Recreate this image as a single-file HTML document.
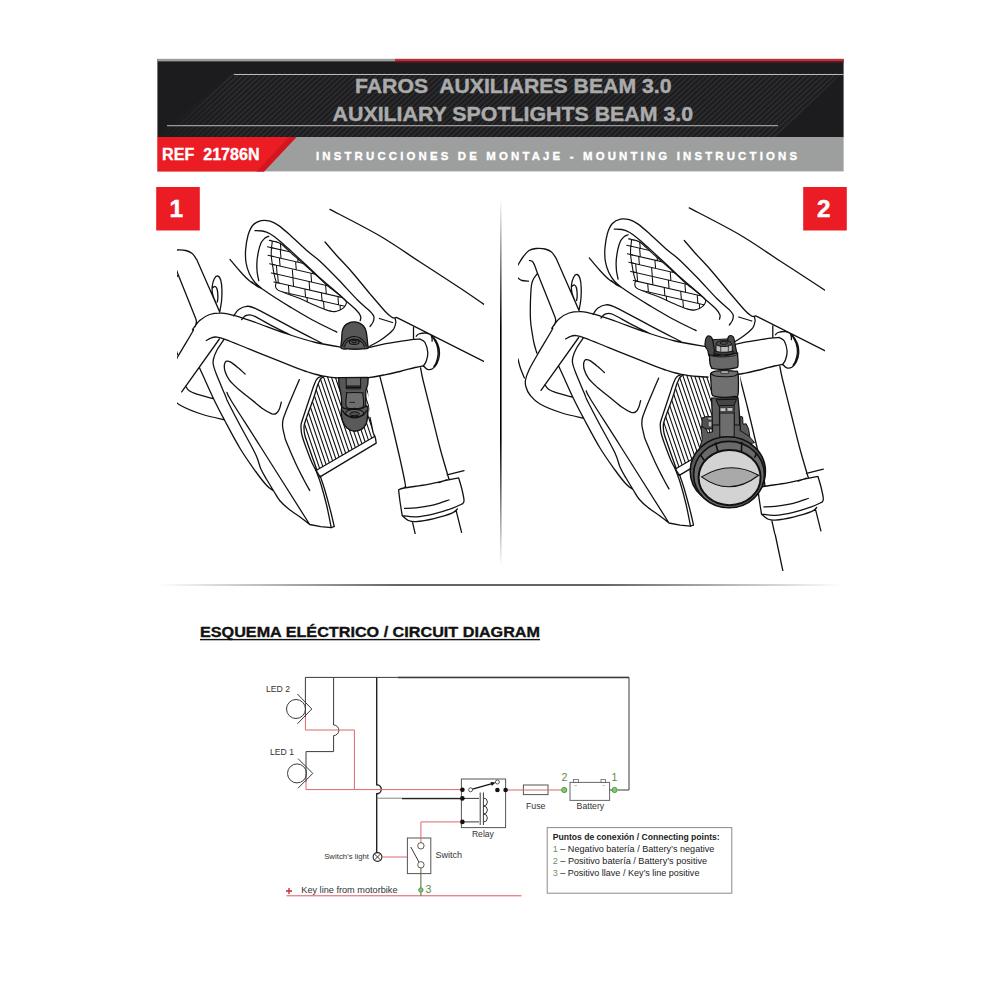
<!DOCTYPE html>
<html><head><meta charset="utf-8">
<style>
html,body{margin:0;padding:0;background:#fff;}
body{width:1000px;height:1000px;overflow:hidden;position:relative;font-family:"Liberation Sans",sans-serif;}
svg{position:absolute;left:0;top:0;}
</style></head><body>
<svg width="1000" height="1000" viewBox="0 0 1000 1000" font-family="Liberation Sans, sans-serif">
<defs>
<pattern id="hatch" width="3.8" height="3.8" patternUnits="userSpaceOnUse" patternTransform="rotate(47)">
<rect width="3.8" height="3.8" fill="#1c1c1e"/><rect width="1.5" height="3.8" fill="#2f2f32"/>
</pattern>
<linearGradient id="hf" x1="0" y1="0" x2="1" y2="0"><stop offset="0" stop-color="#1c1c1e" stop-opacity=".85"/><stop offset=".1" stop-color="#1c1c1e" stop-opacity="0"/></linearGradient>
<linearGradient id="vg" x1="0" y1="0" x2="0" y2="1"><stop offset="0" stop-color="#000" stop-opacity="0"/><stop offset=".35" stop-color="#000" stop-opacity="1"/><stop offset=".65" stop-color="#000" stop-opacity="1"/><stop offset="1" stop-color="#000" stop-opacity="0"/></linearGradient>
<linearGradient id="hg" x1="0" y1="0" x2="1" y2="0"><stop offset="0" stop-color="#000" stop-opacity="0"/><stop offset=".35" stop-color="#000" stop-opacity="1"/><stop offset=".65" stop-color="#000" stop-opacity="1"/><stop offset="1" stop-color="#000" stop-opacity="0"/></linearGradient>
<linearGradient id="tg" x1="0" y1="0" x2="1" y2="0"><stop offset="0" stop-color="#9a9a9a"/><stop offset=".33" stop-color="#9a9a9a"/><stop offset=".37" stop-color="#d41f2a"/><stop offset="1" stop-color="#d41f2a"/></linearGradient>
<clipPath id="c1"><rect x="177" y="185" width="307" height="349"/></clipPath>
<clipPath id="c2"><rect x="518" y="200" width="307" height="371"/></clipPath>
<g id="scene" fill="none" stroke="#111" stroke-width="1.3" stroke-linecap="round" stroke-linejoin="round">
<path d="M223.7,419.5C220.2,418.7 209.9,416.8 202.7,414.5C195.5,412.2 186,408.5 180.7,405.5C175.4,402.5 173,399.3 170.7,396.5C168.4,393.7 167.4,391 166.7,388.5C165.9,386 165.7,384.3 166.2,381.5C166.7,378.7 167.7,375.8 169.7,371.5C171.7,367.2 174.4,362.7 178.2,356C182,349.3 190.3,335.9 192.7,331.5C195.1,327.1 191.5,331.3 192.7,329.5C193.9,327.7 196.9,323 199.7,320.5C202.5,318 206,315.7 209.7,314.5C213.4,313.3 217.4,312.9 221.7,313.1C226,313.3 230,314.3 235.7,315.9C241.4,317.5 247.4,319.6 255.7,322.5C264,325.4 275.7,330.2 285.7,333.5C295.7,336.8 305.7,340.1 315.7,342.5C325.7,344.9 339.1,346.8 345.7,347.9C352.2,349 351.3,349.1 355,349C358.7,348.9 363.5,348.3 368.1,347.5C372.7,346.7 377,345.4 382.5,344.4C388,343.3 396,342.1 401.2,341.2C406.5,340.4 410.6,339.8 413.8,339.4C416.9,339 419,339.1 420,339M206.3,340.5C207.2,340 209.6,338.3 211.3,337.8C213.1,337.2 214.6,336.8 216.9,337.1C219.3,337.4 220.1,337.5 225.7,339.6C231.3,341.7 242.4,346.3 250.7,349.6C259,353 268.3,356.7 275.7,359.6C283.1,362.6 289.6,365.2 295,367.3C300.4,369.4 303.5,370.6 308,372C312.5,373.4 316.8,374.8 322,375.8C327.2,376.8 333.5,377.5 339,378C344.5,378.5 350.3,378.6 355,378.6C359.7,378.6 362.2,378.4 367,377.8C371.8,377.2 378.2,376.1 383.8,375C389.2,373.9 394.8,372.8 400,371.5C405.2,370.2 411,368.5 415,367.5C419,366.5 422.3,365.9 423.8,365.6M219.4,339L181.7,391.9M185.6,386C186.2,386.8 187.2,389.4 189.2,390.8C191.2,392.2 193.6,393.1 197.6,394.4C201.6,395.7 210.6,397.9 213.2,398.6M155.7,271.5C156.2,270.7 157.4,268.7 158.7,266.5C160,264.3 161.9,260.9 163.7,258.5C165.5,256.1 167.5,253.4 169.7,252C171.9,250.6 174,250.2 176.7,250C179.4,249.8 183.1,249.9 185.7,250.5C188.3,251.1 190.4,252 192.2,253.5C194,255 195.9,258.5 196.7,259.5M196.7,259.5L219.7,312M170.2,262C170.7,262.2 172.4,262.2 173.2,263C174,263.8 174.4,264.8 175.2,266.5C175.9,268.2 177.3,272.3 177.7,273.5M177.7,273.5L195.7,318.5M195.7,318.5C195.8,319.1 196.5,320.7 196.4,322C196.3,323.3 195.4,325.8 195.2,326.5M155.7,277.5C156.2,277.8 157.5,278.8 158.7,279.5C159.9,280.2 160.9,281.5 162.7,282C164.4,282.5 168.1,282.6 169.2,282.7M177.7,275.5C177.1,276.3 175.1,278.7 174.2,280.5C173.3,282.3 172.7,283 172.2,286.5C171.7,290 171.4,295.7 171.2,301.5C171,307.3 170.9,315.7 171.2,321.5C171.5,327.3 172.6,332.5 173.2,336.5C173.8,340.5 174.2,342.5 174.9,345.5C175.6,348.5 177.1,353 177.5,354.5M158.7,360.5C159.1,362 160,366.3 161.1,369.5C162.2,372.7 164.4,377.8 165.1,379.5M219.7,312C219,310.4 216.9,305.4 215.7,302.5C214.5,299.6 213.3,297.2 212.7,294.5C212.1,291.8 211.9,289.1 212.2,286.5C212.4,283.9 213.3,280.8 214.2,279C215.1,277.2 216.6,275.8 217.7,276C218.8,276.2 220,277.8 220.7,280C221.4,282.2 221.8,285.9 221.9,289.5C222,293.1 221.9,297.8 221.5,301.5C221.1,305.2 220,310.2 219.7,312M212.7,287.7C213.1,287.5 214.4,286.2 215.2,286.5C215.9,286.8 216.8,287.7 217.2,289.5C217.6,291.3 217.9,295.4 217.9,297.5C217.9,299.6 217.4,301.2 217.3,302M261.9,288.8C260.7,287.7 257.1,285 255,282.5C252.9,280 250.9,277.1 249.4,273.8C247.9,270.4 246.6,266.5 246,262.5C245.4,258.5 245.3,254.6 245.6,250C246,245.4 246.9,239.2 248.1,235C249.4,230.8 250.9,227.4 253.1,225C255.3,222.6 258.4,221.2 261.2,220.6C264.1,220 267.1,220.4 270,221.2C272.9,222.1 275.4,223.3 278.8,225.6C282.1,227.9 285.4,230.9 290,235C294.6,239.1 301.2,245.6 306.2,250C311.2,254.4 314.6,256.2 320,261.2C325.4,266.2 332.5,273.5 338.8,280C345,286.5 352.3,294.8 357.5,300C362.7,305.2 367.3,308.5 370,311.2C372.7,314 373.2,314.5 373.8,316.2C374.3,318 373.8,320.2 373.1,321.9C372.5,323.6 370.5,325.7 370,326.5M255,230.6C256.2,230.7 260,230.5 262.5,231C265,231.5 267.1,232 270,233.8C272.9,235.5 276.2,238.1 280,241.2C283.8,244.4 288.1,248.5 292.5,252.5C296.9,256.5 301.7,260.7 306.2,265C310.8,269.3 315.6,274.2 320,278.1C324.4,282.1 328.3,285.1 332.5,288.8C336.7,292.4 341,296.5 345,300C349,303.5 353.6,307.3 356.2,310C358.9,312.7 360,314.5 360.6,316.2C361.3,318 360.3,319.9 360.2,320.6M268.8,236.2C268.1,236.6 266.2,237.1 265,238.1C263.8,239.2 262.3,240.3 261.2,242.5C260.2,244.7 259.2,247.9 258.5,251.2C257.8,254.6 257.1,259 256.9,262.5C256.7,266 256.9,269.5 257.2,272.5C257.6,275.5 258.5,279.3 258.8,280.6M230,259.4C231.7,261.4 236.7,267.6 240,271.2C243.3,274.9 246.4,278.3 250,281.2C253.6,284.2 257.7,286 261.9,288.8C266,291.5 270.3,294.5 275,297.5C279.7,300.5 283.8,303.1 290,306.9C296.2,310.6 305,315.9 312.5,320C320,324.1 331.1,329.3 335,331.2C338.9,333.2 335.5,331.5 335.6,331.5M251.9,281.9C252.6,282.5 254.6,284.5 256.2,285.6C257.9,286.8 260.9,288.2 261.9,288.8M325,242C326.9,244.2 331.9,250.1 336.2,255C340.6,259.9 345.6,264.8 351.2,271.2C356.9,277.7 364.4,287.1 370,293.8C375.6,300.4 381.4,307.3 385,311.2C388.6,315.2 390.2,316.1 391.9,317.2C393.5,318.4 394.5,317.8 395,317.9M395,317.9L396.6,317.4L398,318.2L490,364.5M330,209.4C338.3,213.8 365,227.2 380,236C395,244.8 406.7,253.3 420,262C433.3,270.7 449.3,280.9 460,288C470.7,295.1 477.3,299.8 484,304.4C490.7,309 497.3,313.7 500,315.6M379.4,318.5L392.5,322.5M395,318.1C395.1,318.9 396,320.7 395.8,322.5C395.5,324.3 395.1,326.7 393.8,328.8C392.4,330.8 390,332.9 387.5,335C385,337.1 381.7,339.4 378.8,341.2C375.8,343.1 371.5,345.2 370,346M413.5,327.5L413.5,339M420,339C420.8,339.6 423.7,340.2 425,342.5C426.3,344.8 427.5,349.4 427.8,352.5C428,355.6 427,359 426.2,361.2C425.5,363.5 423.6,365.4 423.1,366.2M416.2,336.2C416.7,335.9 417.1,334.5 418.8,334C420.4,333.5 424,332.8 426.2,333.1C428.5,333.5 430.5,334.3 432.5,336.2C434.5,338.2 437,341.9 438.1,345C439.3,348.1 439.6,351.9 439.4,355C439.2,358.1 438,361.5 436.9,363.8C435.7,366 434.1,367.8 432.5,368.8C430.9,369.7 429,369.8 427.5,369.4C426,369 424.4,366.8 423.8,366.2M433.1,337.5C433.8,338.8 436,342.3 436.9,345C437.7,347.7 438.2,350.8 438.1,353.8C438,356.7 437,360.4 436.2,362.5C435.5,364.6 434.2,365.8 433.8,366.5M431,335C431.2,335.5 431.8,337.1 432,338.1C432.2,339.2 432.1,340.7 432.1,341.2M233.7,315.9C234.5,314.8 236.5,311.1 238.7,309.5C240.9,307.9 243.7,306.4 246.7,306.3C249.7,306.2 249.4,305.6 256.7,309.1C264,312.6 279.9,321.4 290.7,327.1C301.5,332.8 316.5,340.4 321.7,343.1M241.7,319.5C242.4,318.9 243.9,316.4 245.7,315.7C247.5,315 248.5,313.9 252.7,315.5C256.9,317.1 264.4,321.8 270.7,325.1C277,328.4 287.4,333.4 290.7,335.1M223.8,339.6C222.7,341.4 218.6,347.2 216.9,350.2C215.3,353.3 214.4,355.5 213.8,357.8C213.2,360 212.8,361.3 213.2,364C213.6,366.7 214.2,368.6 216.3,374C218.4,379.4 223.8,391.9 225.7,396.5C227.6,401.1 225.2,396.5 227.7,401.5C230.2,406.5 236,417.7 240.7,426.5C245.4,435.3 252.4,447.5 255.7,454.5C259,461.5 258.9,464.3 260.7,468.5C262.5,472.7 264.5,475.8 266.7,479.5C268.9,483.2 271.5,487.5 273.7,491C275.9,494.5 277.2,497.5 279.7,500.5C282.2,503.5 285.2,506.2 288.7,509C292.2,511.8 297.2,514.9 300.7,517.5C304.2,520.1 308.2,523.3 309.7,524.5M199.4,367.4C201.7,372.5 209,389.1 213.2,398C217.4,406.9 220.1,411.9 224.7,420.5C229.3,429.1 235.5,441 240.7,449.5C245.9,458 251.4,465.5 255.7,471.5C260,477.5 263.7,482.2 266.7,485.5C269.7,488.8 272.5,490.1 273.7,491M226.9,392.4C227.7,393.9 226.1,392.4 231.7,401.5C237.3,410.6 247.7,426.5 260.7,447C273.7,467.5 301.5,511.6 309.7,524.5M245.1,374C243.9,373 240.6,369.7 238.2,367.8C235.8,365.8 232.7,363.2 230.7,362.1C228.7,361 227.4,360.8 226.3,361.2C225.3,361.7 224.7,362.9 224.4,364.6C224.2,366.3 224.2,368.9 225.1,371.5C225.9,374.1 227.3,377.3 229.4,380.2C231.6,383.2 234.7,385.9 238.2,389C241.7,392.1 246.5,395.7 250.7,399C254.9,402.3 259.7,406.5 263.2,409C266.7,411.5 269.8,413 271.9,413.8C274.1,414.5 275.1,414.2 276.3,413.4C277.6,412.6 278.6,410.9 279.4,409C280.3,407.1 281,403.3 281.3,402.1M299.4,379.6C298.4,382 295.3,389.1 293.2,394C291.1,398.9 288.6,404.8 286.9,409C285.3,413.2 283.9,416.1 283.2,419C282.5,421.9 282.4,423.8 282.6,426.5C282.8,429.2 283.8,432.8 284.4,435.2C285.1,437.8 284.3,436.8 286.2,441.5C288.1,446.2 292.8,457.2 295.7,463.5C298.6,469.8 301.4,475 303.7,479.5C306,484 308.7,488.7 309.7,490.5M309.7,524.5L320.7,526.7L331.2,527.7L334.2,526.5M380,376.9C381.2,381.8 384.8,395.3 387.5,406.2C390.2,417.2 393.3,429.8 396.2,442.5C399.2,455.2 403.6,475 405,482.5C406.4,490 404.7,486.6 404.6,487.4M420.6,368C421,370 421.1,372 423,380C424.9,388 429.2,404.7 432,416C434.8,427.3 437.3,437.8 440,448C442.7,458.2 446.9,472.1 448.4,477.2C449.9,482.3 449,478.4 449.1,478.6M398.6,489.8C399.5,489.5 399.1,488.9 404,488C408.9,487.1 420.8,485.7 428,484.4C435.2,483.1 442.1,481.3 447.2,480.2C452.3,479.1 456.7,478.2 458.6,477.8M398.6,489.8C398.8,491.5 399.2,495.7 399.8,500C400.4,504.3 401.8,513 402.2,515.6M458.6,477.8C459.1,479.5 460.7,484.3 461.6,488C462.5,491.7 463.8,497.4 464,500C464.2,502.6 463,503 462.8,503.6M402.2,515.6C404.5,515.8 410.7,517.1 416,516.8C421.3,516.5 428,515.2 434,513.8C440,512.4 447.2,510.1 452,508.4C456.8,506.7 461,504.4 462.8,503.6M404.6,508.4C406.5,508.3 411.1,508.4 416,507.8C420.9,507.2 428.5,506.1 434,504.8C439.5,503.5 446.5,500.8 449,500M402.8,516.2C403.7,516.9 406,519.5 408.2,520.4C410.4,521.3 411.7,521.9 416,521.6C420.3,521.3 428,520 434,518.6C440,517.2 448.1,514.8 452,513.2C455.9,511.6 456.5,509.7 457.4,509M412.4,521.6L415.4,534.8M456.2,510.8L461.6,532.4M415.9,536L423.7,573M447.2,474.8L464,470.6M438.8,482.6L447.2,479.6"/>
<clipPath id="radclip"><path d="M324,376.5C323.5,376.8 321.8,377.6 321,378.5C320.2,379.4 319.7,380.6 319,382C318.3,383.4 317.9,384.2 317,387C316.1,389.8 315.1,393.8 313.5,398.5C311.9,403.2 309,410.8 307.5,415C306,419.2 305.1,421.6 304.5,423.8C303.9,425.9 304,426.1 304,428C304,429.9 304.1,432.2 304.8,435C305.4,437.8 306.1,439.2 308.1,445C310.1,450.8 315.4,465.8 316.9,470L375,436.2L373.1,432.5L370,417.5L367,377.8L355,378.6L339,378Z"/></clipPath>
<path clip-path="url(#radclip)" d="M252.4,374.2L292,490.5M256.4,374.2L295.9,490.5M260.2,374.2L299.8,490.5M264.1,374.2L303.7,490.5M268.1,374.2L307.6,490.5M271.9,374.2L311.5,490.5M275.9,374.2L315.4,490.5M279.8,374.2L319.3,490.5M283.6,374.2L323.2,490.5M287.6,374.2L327.1,490.5M291.4,374.2L331,490.5M295.4,374.2L334.9,490.5M299.2,374.2L338.8,490.5M303.1,374.2L342.7,490.5M307.1,374.2L346.6,490.5M310.9,374.2L350.5,490.5M314.9,374.2L354.4,490.5M318.8,374.2L358.3,490.5M322.6,374.2L362.2,490.5M326.6,374.2L366.1,490.5M330.4,374.2L370,490.5M334.3,374.2L373.9,490.5M338.2,374.2L377.8,490.5M342.1,374.2L381.7,490.5M346,374.2L385.6,490.5M349.9,374.2L389.5,490.5M353.8,374.2L393.4,490.5M357.8,374.2L397.3,490.5M361.6,374.2L401.2,490.5M365.6,374.2L405.1,490.5" stroke-width="1.1"/>
<path d="M324,376.5C323.5,376.8 321.8,377.6 321,378.5C320.2,379.4 319.7,380.6 319,382C318.3,383.4 317.9,384.2 317,387C316.1,389.8 315.1,393.8 313.5,398.5C311.9,403.2 309,410.8 307.5,415C306,419.2 305.1,421.6 304.5,423.8C303.9,425.9 304,426.1 304,428C304,429.9 304.1,432.2 304.8,435C305.4,437.8 306.1,439.2 308.1,445C310.1,450.8 315.4,465.8 316.9,470"/>
<path d="M322,376.2C321.4,376.5 319.5,376.8 318.5,377.5C317.5,378.2 316.8,379 316,380.5C315.2,382 314.5,383.8 313.5,386.5C312.5,389.2 311.6,392.2 310,397C308.4,401.8 305.5,410.5 304,415C302.5,419.5 301.8,421.7 301.2,423.8C300.8,425.8 300.9,425.6 301,427.5C301.1,429.4 301.1,431.9 301.9,435C302.6,438.1 303.9,441.5 305.6,446.2C307.4,451 310.1,458.6 312.5,463.8C314.9,468.9 318.8,474.7 320,476.9"/>
<path d="M316.9,470L375,436.2"/>
<path d="M320,476.9L376.2,443.1L375.6,438.8L373.1,432.5L370,417.5"/>
<path d="M315.2,468.5C316.1,471 318.8,477.3 320.7,483.5C322.6,489.7 324.9,498.2 326.7,505.5C328.4,512.8 330.4,523.8 331.2,527.5"/>
<path d="M320.2,476C320.9,478.2 322.9,483.6 324.7,489.5C326.4,495.4 329.1,505.3 330.7,511.5C332.3,517.7 333.6,524 334.2,526.5"/>
<clipPath id="meshclip"><path d="M269.6,240.5C270.9,240.8 276.3,241 280,243.2C283.7,245.4 287.9,250.3 291.7,253.6C295.4,256.9 298.9,259.9 302.5,263C306.1,266.2 309.2,268.8 313.3,272.5C317.3,276.2 322.1,281.1 326.8,285.1C331.4,289.1 338,293.6 341.2,296.3C344.4,299 345.4,299.9 346.1,301.3C346.9,302.7 346.4,303.6 345.7,304.9C345,306.2 343.6,307.9 342.1,308.9C340.6,310 338.6,310.8 336.7,311.2C334.7,311.6 333.8,312.1 330.4,311.2C326.9,310.3 321.4,308 316,305.8C310.6,303.5 304.4,300.4 298,297.7C291.5,295 280.9,292.2 277.3,289.6C273.6,286.9 276.5,284 276.1,281.8C275.6,279.6 275.1,278.9 274.6,276.4C274,273.9 273.3,270.2 272.8,266.8C272.2,263.4 271.5,259 271.3,256C271.1,253 271.3,251.2 271.4,248.8C271.5,246.4 272.4,243 272.1,241.6C271.8,240.2 268.3,240.2 269.6,240.5Z"/></clipPath>
<path d="M269.6,240.5C270.9,240.8 276.3,241 280,243.2C283.7,245.4 287.9,250.3 291.7,253.6C295.4,256.9 298.9,259.9 302.5,263C306.1,266.2 309.2,268.8 313.3,272.5C317.3,276.2 322.1,281.1 326.8,285.1C331.4,289.1 338,293.6 341.2,296.3C344.4,299 345.4,299.9 346.1,301.3C346.9,302.7 346.4,303.6 345.7,304.9C345,306.2 343.6,307.9 342.1,308.9C340.6,310 338.6,310.8 336.7,311.2C334.7,311.6 333.8,312.1 330.4,311.2C326.9,310.3 321.4,308 316,305.8C310.6,303.5 304.4,300.4 298,297.7C291.5,295 280.9,292.2 277.3,289.6C273.6,286.9 276.5,284 276.1,281.8C275.6,279.6 275.1,278.9 274.6,276.4C274,273.9 273.3,270.2 272.8,266.8C272.2,263.4 271.5,259 271.3,256C271.1,253 271.3,251.2 271.4,248.8C271.5,246.4 272.4,243 272.1,241.6C271.8,240.2 268.3,240.2 269.6,240.5Z" stroke-width="1.1"/>
<path clip-path="url(#meshclip)" d="M266.8,239.7L349,258.6M266.8,246.6L349,265.5M266.8,255L349,273.9M266.8,263.1L349,282M266.8,271.8L349,290.7M266.8,280.2L349,299.1M266.8,288.3L349,307.2M266.8,296.4L349,315.3M266.8,304.5L349,323.4M266.8,312.6L349,331.5M280.3,242.8L281,249.9M280.3,249.7L281,258.3M297.4,253.7L298.1,262.2M279.4,257.9L280.1,266.2M295.6,261.7L296.3,269.9M312.4,265.5L313.1,273.8M276.4,265.3L277.1,274.2M292.3,269L293,277.9M310.9,273.3L311.6,282.1M327.4,277.1L328.1,285.9M277.6,274.3L278.3,282.9M292.9,277.8L293.6,286.4M309.1,281.6L309.8,290.1M325.6,285.4L326.3,293.9M342.1,289.2L342.8,297.7M288.4,285.2L289.1,293.5M304.9,289L305.6,297.3M321.4,292.8L322.1,301.1M337.9,296.6L338.6,304.9M290.5,293.8L291.2,302M307,297.6L307.7,305.8M323.5,301.4L324.2,309.6M340,305.2L340.7,313.4M298.6,303.7L299.3,312M315.1,307.5L315.8,315.8M331.6,311.3L332.3,319.6M348.1,315.1L348.8,323.4M307,313.8L307.7,322M323.5,317.6L324.2,325.8M340,321.4L340.7,329.6" stroke-width="1.05"/>
<path d="M267.4,246.8L272.8,248M268,255.3L273.4,256.6M269.5,263.8L274.9,265M271.3,272.9L276.7,274.1M274,281.9L279.4,283.1" stroke-width="1.05"/>
</g>
</defs>
<!-- HEADER -->
<g id="header">
<rect x="157.4" y="59" width="686.2" height="78.4" fill="#1c1c1e"/>
<polygon points="231,73 842,73 776,137.4 160,137.4" fill="url(#hatch)"/><polygon points="231,73 842,73 776,137.4 160,137.4" fill="url(#hf)"/>
<rect x="157.4" y="58.8" width="238" height="2.6" fill="#9c9c9c"/><rect x="395" y="58.8" width="448.6" height="2.4" fill="#b8323a"/><rect x="395" y="61.2" width="448.6" height="1.4" fill="#6e1a20"/>
<rect x="234" y="74" width="609.6" height="1" fill="#b9b9b9"/>
<rect x="167" y="125.2" width="611" height="1" fill="#b9b9b9"/>
<text x="355" y="92.6" font-size="20.4" font-weight="bold" fill="#ababab" stroke="#ababab" stroke-width=".4" textLength="316.5" lengthAdjust="spacingAndGlyphs" xml:space="preserve">FAROS  AUXILIARES BEAM 3.0</text>
<text x="332.6" y="121" font-size="20.4" font-weight="bold" fill="#ababab" stroke="#ababab" stroke-width=".4" textLength="360.5" lengthAdjust="spacingAndGlyphs">AUXILIARY SPOTLIGHTS BEAM 3.0</text>
<rect x="157.4" y="137" width="686.2" height="34.4" fill="#9d9f9e"/>
<polygon points="157.4,137 296.5,137 264,171.4 157.4,171.4" fill="#ec1c24"/>
<polygon points="289,137 296.5,137 264,171.4 256.5,171.4" fill="#d2151e"/>
<text x="162" y="159.7" font-size="15.6" font-weight="bold" fill="#fff" stroke="#fff" stroke-width=".3" textLength="97.6" lengthAdjust="spacingAndGlyphs" xml:space="preserve">REF  21786N</text>
<text x="316" y="159.7" font-size="11.4" font-weight="bold" fill="#fff" stroke="#fff" stroke-width=".35" textLength="481" lengthAdjust="spacing">INSTRUCCIONES DE MONTAJE - MOUNTING INSTRUCTIONS</text>
</g>
<!-- NUMBER BOXES -->
<rect x="156.2" y="187" width="43.6" height="43.5" fill="#ec1c24"/>
<text x="176.4" y="217" font-size="24.5" font-weight="bold" fill="#fff" stroke="#fff" stroke-width=".5" text-anchor="middle">1</text>
<rect x="803.2" y="187" width="43.6" height="43.5" fill="#ec1c24"/>
<text x="823.8" y="217" font-size="24.5" font-weight="bold" fill="#fff" stroke="#fff" stroke-width=".5" text-anchor="middle" textLength="13.5" lengthAdjust="spacingAndGlyphs">2</text>
<!-- DIVIDERS -->
<rect x="500" y="200" width="1.6" height="366" fill="url(#vg)"/>
<rect x="158" y="584.4" width="684" height="1.2" fill="url(#hg)"/>
<!-- DRAWING 1 -->
<g clip-path="url(#c1)"><use href="#scene"/><path d="M341.2,348.2C340.3,346.8 341.4,342.8 341.6,340C341.8,337.2 341.8,333.8 342.2,331.5C342.7,329.2 343.4,327.5 344.5,326C345.6,324.5 347.4,323.5 349,322.8C350.6,322 352.3,321.8 354,321.8C355.7,321.8 357.4,322 359,322.8C360.6,323.5 362.3,324.6 363.5,326C364.7,327.4 365.4,329 366,331C366.6,333 366.8,335.7 367.1,338C367.4,340.3 367.6,343.3 367.8,345C368,346.7 369.1,347.5 368.1,348.1C367.1,348.8 364.2,348.7 362,348.9C359.8,349.1 357.4,349.1 355,349.1C352.6,349.1 349.8,349 347.5,348.9C345.2,348.8 342.2,349.7 341.2,348.2Z" fill="#575757" stroke="#111" stroke-width="1.3" stroke-linejoin="round" />
<path d="M342.2,346.2C342.5,345.5 343.1,343.3 344,342C344.9,340.7 345.8,339.4 347.5,338.5C349.2,337.6 351.9,336.6 354,336.5C356.1,336.4 358.2,337.1 360,338C361.8,338.9 363.4,340.6 364.5,342C365.6,343.4 366.2,345.4 366.6,346.1" fill="none" stroke="#111" stroke-width="1.2" stroke-linejoin="round" />
<path d="M344.6,346.8C344.8,346.1 345.3,344 346,343C346.7,342 347.7,341.1 349,340.5C350.3,339.9 352.3,339.3 354,339.2C355.7,339.2 357.6,339.6 359,340.2C360.4,340.9 361.6,341.9 362.5,343C363.4,344.1 364.2,346.1 364.5,346.8" fill="#626262" stroke="#111" stroke-width="1.1" stroke-linejoin="round" />
<ellipse cx="354.2" cy="341.9" rx="5" ry="2.5" fill="#555" stroke="#111" stroke-width="1.1"/>
<ellipse cx="354.2" cy="341.5" rx="2.8" ry="1.1" fill="#4a4a4a" stroke="#111" stroke-width="0.9"/>
<ellipse cx="342.9" cy="347.2" rx="1.2" ry="1.1" fill="#7a7a7a" stroke="#222" stroke-width="0.8"/>
<ellipse cx="365.8" cy="347.2" rx="1.2" ry="1.1" fill="#7a7a7a" stroke="#222" stroke-width="0.8"/>
<path d="M338.6,377.7L339,386L340.6,392.4L341.4,398L341.8,407.6L341.4,414.8L343,422L347,428L354.2,431.2L362.2,428.8L366.2,423.6L367.4,416.4L367.8,407.6L365.8,405.2L365.8,390.8L367.8,384.4L368.2,377.4Z" fill="#575757" stroke="#111" stroke-width="1.3" stroke-linejoin="round" />
<path d="M346.2,377.8L346.2,388.8L360.6,388.8L360.6,377.7Z" fill="#6a6a6a" stroke="#111" stroke-width="1.0" stroke-linejoin="round" />
<path d="M346.2,386L360.6,386M346.2,387.4L360.6,387.4" fill="none" stroke="#111" stroke-width="1.2" stroke-linejoin="round" />
<path d="M346.6,394C346.8,391.6 345.3,393 347.8,392.8C350.3,392.6 358.9,392.6 361.4,392.8C363.9,393 362.6,391.7 362.8,394C363.1,396.3 364.4,404.4 363,406.8C361.6,409.2 357.4,408.4 354.6,408.4C351.8,408.4 347.7,409.4 346.4,407C345,404.6 346.4,396.4 346.6,394Z" fill="#6e6e6e" stroke="#111" stroke-width="1.1" stroke-linejoin="round" />
<path d="M349.4,402.4L355,402.4" fill="none" stroke="#222" stroke-width="1.0" stroke-linejoin="round" />
<path d="M341.8,407.6C341.3,408.7 341.2,412.4 341.4,414.8C341.6,417.2 342.1,419.8 343,422C343.9,424.2 345.1,426.5 347,428C348.9,429.5 351.7,431.1 354.2,431.2C356.7,431.3 360.2,430.1 362.2,428.8C364.2,427.5 365.3,425.7 366.2,423.6C367.1,421.5 367.1,419.1 367.4,416.4C367.7,413.7 368.1,409.3 367.8,407.6C367.5,405.9 366.1,406 365.4,406C364.7,406 365.6,406.9 363.8,407.6C362,408.3 357.8,409.9 354.6,410C351.4,410.1 346.7,408.8 344.6,408.4C342.5,408 342.3,406.5 341.8,407.6Z" fill="#5a5a5a" stroke="#111" stroke-width="1.3" stroke-linejoin="round" />
<path d="M342.2,410C342.9,410.9 344.1,413.9 346.2,415.2C348.3,416.5 351.8,417.8 354.6,417.8C357.4,417.8 360.9,416.5 363,415.2C365.1,413.9 366.3,410.9 367,410" fill="none" stroke="#111" stroke-width="1.2" stroke-linejoin="round" />
<ellipse cx="354.6" cy="413.2" rx="9" ry="3.7" fill="#666" stroke="#111" stroke-width="1.1"/>
<ellipse cx="354.6" cy="413.8" rx="4.8" ry="2" fill="#505050" stroke="#111" stroke-width="1.0"/></g>
<!-- DRAWING 2 -->
<g clip-path="url(#c2)"><g transform="translate(359.3,-1.5)"><use href="#scene"/><path d="M348.8,376.5L353.2,396.5L353.7,441.5L385.7,441.5L380.7,376.5Z" fill="#fff" stroke="none" stroke-width="0" stroke-linejoin="round" />
<path d="M353.1,341.2L369.3,340.4L377.7,355.3L350.4,356.5Z" fill="#555" stroke="#111" stroke-width="1.0" stroke-linejoin="round" />
<path d="M345.9,347.5C345.5,345.7 345.9,343 346.2,341.5C346.5,339.9 347,338.8 347.7,338.2C348.4,337.5 349.6,337.4 350.4,337.6C351.2,337.8 351.9,338.4 352.5,339.4C353,340.3 353.4,341.9 353.7,343.3C354,344.6 354.2,345.8 354.4,347.5C354.7,349.2 355.3,351.8 355.2,353.5C355.1,355.2 354.6,357 353.7,357.7C352.8,358.4 350.6,358.6 349.8,357.7C348.9,356.8 349.2,354 348.6,352.3C347.9,350.6 346.3,349.3 345.9,347.5Z" fill="#4a4a4a" stroke="#111" stroke-width="1.2" stroke-linejoin="round" />
<path d="M368.4,341.2C368.4,340.1 368.8,338.9 369.3,338.2C369.8,337.5 370.6,336.9 371.4,337C372.2,337 373.4,337.4 374.1,338.5C374.7,339.5 375,341.9 375.3,343.3C375.6,344.7 375.7,345.3 376,346.9C376.3,348.5 376.9,351.4 377.2,352.9C377.5,354.4 378.5,355.5 378,355.9C377.5,356.3 375.1,356.2 374.1,355.3C373,354.4 372.5,352.3 371.7,350.5C370.9,348.7 369.8,346 369.3,344.5C368.7,342.9 368.4,342.2 368.4,341.2Z" fill="#4a4a4a" stroke="#111" stroke-width="1.2" stroke-linejoin="round" />
<ellipse cx="364.8" cy="353.8" rx="10.2" ry="2.7" fill="#3c3c3c" stroke="#111" stroke-width="1.0"/>
<path d="M356.7,346.3L356.7,352.9L361.5,353.8L369,353.6L373,352.6L373,346.3Z" fill="#bdbdbd" stroke="#111" stroke-width="1.0" stroke-linejoin="round" />
<path d="M361.4,347.5L361.5,353.8M369.1,347.5L369,353.6" fill="none" stroke="#333" stroke-width="0.9" stroke-linejoin="round" />
<ellipse cx="364.5" cy="345.1" rx="7.8" ry="2.9" fill="#4d4d4d" stroke="#111" stroke-width="1.0"/>
<ellipse cx="364.5" cy="344.5" rx="3.7" ry="1.3" fill="#5c5c5c" stroke="#111" stroke-width="0.9"/>
<path d="M350.4,356.5C350.2,357.8 350.4,362.8 350.7,364.9C351,367 351.7,368.2 352.2,369.1C352.7,369.9 351.6,369.7 353.7,370C355.7,370.3 360.7,371.1 364.5,371C368.3,370.9 374.1,370 376.5,369.4C378.8,368.8 378.3,369.4 378.6,367.3C378.9,365.1 378.5,358.6 378.3,356.5C378,354.4 379.4,354.5 377.1,354.7C374.8,354.8 368.7,357 364.5,357.4C360.3,357.7 354.2,356.9 351.9,356.8C349.5,356.6 350.6,355.1 350.4,356.5Z" fill="#686868" stroke="#111" stroke-width="1.3" stroke-linejoin="round" />
<path d="M350.7,356.8C351.7,357 354.4,357.9 356.7,358.2C359,358.4 361.8,358.5 364.5,358.4C367.2,358.3 370.6,358 372.9,357.6C375.2,357.2 377.3,356.3 378.2,356" fill="none" stroke="#222" stroke-width="1.0" stroke-linejoin="round" />
<path d="M361.5,372.2L369.3,372.2L369.3,374.8L361.5,374.8Z" fill="#c8c8c8" stroke="#222" stroke-width="0.8" stroke-linejoin="round" />
<path d="M351.4,375.1C350.7,376.9 351.5,380.1 351.7,383.5C351.9,386.9 351.9,393.1 352.6,395.5C353.3,397.9 353.7,397.3 355.9,397.9C358,398.5 362.3,399 365.5,399C368.7,399 372.9,398.4 375.1,397.9C377.3,397.4 378.1,400 378.7,396.2C379.3,392.4 379.3,379 378.7,375.1C378.1,371.2 377.3,373.2 375.1,372.7C372.9,372.2 368.7,372.1 365.5,372.1C362.3,372.1 358.2,372.2 355.9,372.7C353.5,373.2 352.1,373.3 351.4,375.1Z" fill="#707070" stroke="#111" stroke-width="1.3" stroke-linejoin="round" />
<path d="M351.4,375.1C352.1,375.5 353.5,377 355.9,377.5C358.2,378 362.3,378.2 365.5,378.2C368.7,378.2 372.9,378 375.1,377.5C377.3,377 378.1,375.6 378.7,375.2" fill="none" stroke="#111" stroke-width="1.1" stroke-linejoin="round" />
<path d="M361.6,372.4L369.1,372.4L369.1,374.8L361.6,374.8Z" fill="#c8c8c8" stroke="#222" stroke-width="0.8" stroke-linejoin="round" />
<path d="M352.3,399.7L378.7,399.2L380,413.5L380.6,432.7L353,433.3L352.8,413.5Z" fill="#5e5e5e" stroke="#111" stroke-width="1.3" stroke-linejoin="round" />
<path d="M356.5,401.2L377.2,400.8L374.8,406.9L359.5,407.4Z" fill="#454545" stroke="#111" stroke-width="1.0" stroke-linejoin="round" />
<path d="M360.1,407.5L374.8,407.2L374.8,433.3L360.1,433.3Z" fill="#6e6e6e" stroke="#111" stroke-width="1.0" stroke-linejoin="round" />
<path d="M360.7,409.2L366.7,409.2L366.7,413.2L360.7,413.2Z" fill="#c4c4c4" stroke="#222" stroke-width="0.8" stroke-linejoin="round" />
<path d="M367.6,409L373.6,409L373.6,412.9L367.6,412.9Z" fill="#c4c4c4" stroke="#222" stroke-width="0.8" stroke-linejoin="round" />
<path d="M342.9,419.3L348.5,417.7L352.9,418.5L352.9,430.5L345.7,430.5L342.5,427.3Z" fill="#505050" stroke="#111" stroke-width="1.0" stroke-linejoin="round" />
<path d="M348.7,418.7L352.5,418.7L352.5,421.4L348.7,421.4Z" fill="#c0c0c0" stroke="#333" stroke-width="0.7" stroke-linejoin="round" />
<path d="M348.9,422.9L352.5,422.9L352.5,428.3L348.9,428.3Z" fill="#b8b8b8" stroke="#333" stroke-width="0.7" stroke-linejoin="round" />
<path d="M380.9,417.7L383.3,418.5L383.7,425.7L386.9,425.3L389.3,430.5L390.5,438.5L380.9,438.5Z" fill="#5a5a5a" stroke="#111" stroke-width="1.0" stroke-linejoin="round" />
<path d="M341.7,427.5L346.9,430.5L348.5,434.5L353.3,433.3L353.3,426.5L380.9,426.5L380.9,432.1L389.7,437.7L395.3,444.1L373.7,449.7L349.7,449.7L339.3,452.9L342.9,440.9Z" fill="#5c5c5c" stroke="#111" stroke-width="1.0" stroke-linejoin="round" />
<path d="M360.5,414.5L374.9,414.5L374.9,438.5L360.5,438.5Z" fill="#6e6e6e" stroke="#111" stroke-width="1.0" stroke-linejoin="round" />
<ellipse cx="368.5" cy="472.7" rx="37.6" ry="34.4" fill="#575757" stroke="#111" stroke-width="1.6"/>
<ellipse cx="369.7" cy="476.1" rx="35.4" ry="33.2" fill="#6a6a6a" stroke="#111" stroke-width="1.6"/>
<path d="M356.1,444.1L358.9,453.7M382.5,443.3L382.1,452.9M340.9,456.1L344.9,461.7M397.3,454.5L395.3,459.3" fill="none" stroke="#111" stroke-width="1.6" stroke-linejoin="round" />
<ellipse cx="370.3" cy="479.1" rx="31" ry="27.6" fill="#d3d3d3" stroke="#111" stroke-width="2"/>
<path d="M342.2,478.4Q370.7,461 399.3,476.7Q370.7,499 342.2,478.4Z" fill="#a9a9a9" stroke="#111" stroke-width="1.1"/></g></g>
<!-- CIRCUIT -->
<g id="circuit" font-family="Liberation Sans, sans-serif">
<text x="200" y="637.4" font-size="14.5" font-weight="bold" fill="#111" stroke="#111" stroke-width=".35" textLength="340" lengthAdjust="spacingAndGlyphs">ESQUEMA ELÉCTRICO / CIRCUIT DIAGRAM</text>
<rect x="200" y="638.9" width="340" height="1.4" fill="#111"/>
<g fill="none" stroke="#3a3a3a" stroke-width="1">
<!-- black wires -->
<path d="M305.4,717V677.4H629V790H617.6"/>
<path d="M398,677.4H629" stroke-width="1.5"/>
<path d="M333.6,677.4V725A5.3,5.3 0 0 1 333.6,735.6V751.6H306V782"/>
<path d="M376.7,677.4V784.7A4.5,4.5 0 0 1 376.7,793.8V852.5" stroke="#222" stroke-width="1.4"/>
<path d="M376.7,798.2H462.4" stroke="#777" stroke-width=".9"/>
<path d="M402,798.6H462.4" stroke="#222" stroke-width="1.4"/>
<!-- LEDs -->
<circle cx="296" cy="709" r="9.5"/>
<path d="M297.4,694L311.8,709L297.4,723.8"/>
<circle cx="297" cy="773.4" r="9.5"/>
<path d="M298,758.6L312.8,773.4L298,788.2"/>
<!-- relay -->
<rect x="461.4" y="779" width="44.2" height="48.6" stroke="#555"/>
<path d="M462.4,798.4H479M462.4,821.9H479"/>
<path d="M480.2,792.5V825M483.4,792.5V825"/>
<path d="M483.4,798A4,4 0 0 1 483.4,806A4,4 0 0 1 483.4,814A4,4 0 0 1 483.4,822"/>
<!-- switch -->
<rect x="407.4" y="838" width="23.4" height="35.6" stroke="#555"/>
<path d="M410.8,847L419.2,862.5"/>
<!-- fuse, battery -->
<rect x="523.4" y="785" width="24.6" height="9.6" stroke="#555"/>
<rect x="570" y="782.4" width="39.6" height="18" stroke="#666"/>
<rect x="573.6" y="779.4" width="5" height="3" stroke="#666" stroke-width=".8"/>
<rect x="601" y="779.4" width="4.6" height="3" stroke="#666" stroke-width=".8"/>
<path d="M574.5,785.6h2.4M602.6,785.6h2.4" stroke="#999" stroke-width=".7"/>
<path d="M609.6,790H612"/>
<!-- switch light -->
<circle cx="377.5" cy="857" r="4.4" stroke="#222" stroke-width="1.1"/>
<path d="M374.4,853.9L380.6,860.1M380.6,853.9L374.4,860.1" stroke="#222" stroke-width=".9"/>
<!-- legend box -->
<rect x="547.2" y="827.6" width="184.6" height="65.6" stroke="#8a8a8a"/>
</g>
<g fill="none" stroke="#e0666a" stroke-width="1">
<!-- red wires -->
<path d="M305.4,717V730H354.4V789.6"/>
<path d="M306,782V789.6H462.4"/>
<path d="M505.6,790H561.2"/>
<path d="M462.4,821.9H420.9V842.5"/>
<path d="M382,857H407.4"/>
<path d="M286.5,895.8H521.5" stroke="#e0575c"/>
<path d="M286,891h6M289,888v6" stroke="#c8272e" stroke-width="1.3"/>
</g>
<path d="M420.9,868V895.8" stroke="#4d6b3a" stroke-width="1" fill="none"/>
<!-- dots -->
<g fill="#111"><circle cx="462.4" cy="789.8" r="2.3"/><circle cx="497.4" cy="790" r="2.3"/><circle cx="505.6" cy="790" r="2.3"/><circle cx="462.4" cy="798.4" r="2.3"/><circle cx="462.4" cy="821.9" r="2.3"/></g>
<g fill="#fff" stroke="#333" stroke-width=".8"><circle cx="470.6" cy="789.8" r="2"/><circle cx="497.4" cy="782" r="2"/><circle cx="420.9" cy="845.8" r="3.2"/><circle cx="420.9" cy="864.8" r="3.2"/></g>
<path d="M472.5,789.2L492,783.6" stroke="#111" stroke-width="1.2" fill="none"/><path d="M495.6,782.6L490.6,781.9L491.8,786.1Z" fill="#111"/>
<g fill="#7fc96f" stroke="#4d9b45" stroke-width="1"><circle cx="564.2" cy="790" r="2.6"/><circle cx="614.6" cy="790" r="2.6"/><circle cx="420.9" cy="890" r="2.2"/></g>
<!-- labels -->
<g fill="#333" font-size="8.6">
<text x="266" y="691.6" textLength="24" lengthAdjust="spacingAndGlyphs">LED 2</text>
<text x="270" y="754.6" textLength="24" lengthAdjust="spacingAndGlyphs">LED 1</text>
<text x="526" y="809" font-size="9" textLength="19.5" lengthAdjust="spacingAndGlyphs">Fuse</text>
<text x="576.6" y="809" textLength="27.6" lengthAdjust="spacingAndGlyphs">Battery</text>
<text x="471.9" y="836.7" textLength="22" lengthAdjust="spacingAndGlyphs">Relay</text>
<text x="435.5" y="858.3" textLength="26.6" lengthAdjust="spacingAndGlyphs">Switch</text>
<text x="324.2" y="859.3" font-size="8" textLength="44.8" lengthAdjust="spacingAndGlyphs">Switch’s light</text>
<text x="301.3" y="893.2" font-size="8.4" textLength="96.2" lengthAdjust="spacingAndGlyphs">Key line from motorbike</text>
</g>
<g fill="#5d8a45" font-size="10.6">
<text x="561.4" y="781.2">2</text><text x="611.6" y="781.2">1</text><text x="425.4" y="893.2">3</text>
</g>
<g font-size="9.4" fill="#222">
<text x="552.7" y="840.1" font-weight="bold" textLength="167" lengthAdjust="spacingAndGlyphs">Puntos de conexión / Connecting points:</text>
<text x="552.7" y="851.8" textLength="161.7" lengthAdjust="spacingAndGlyphs"><tspan fill="#6f8f5f">1</tspan> – Negativo batería / Battery’s negative</text>
<text x="552.7" y="863.9" textLength="154.4" lengthAdjust="spacingAndGlyphs"><tspan fill="#6f8f5f">2</tspan> – Positivo batería / Battery’s positive</text>
<text x="552.7" y="876" textLength="146.7" lengthAdjust="spacingAndGlyphs"><tspan fill="#6f8f5f">3</tspan> – Positivo llave / Key’s line positive</text>
</g>
</g>

</svg>
</body></html>
